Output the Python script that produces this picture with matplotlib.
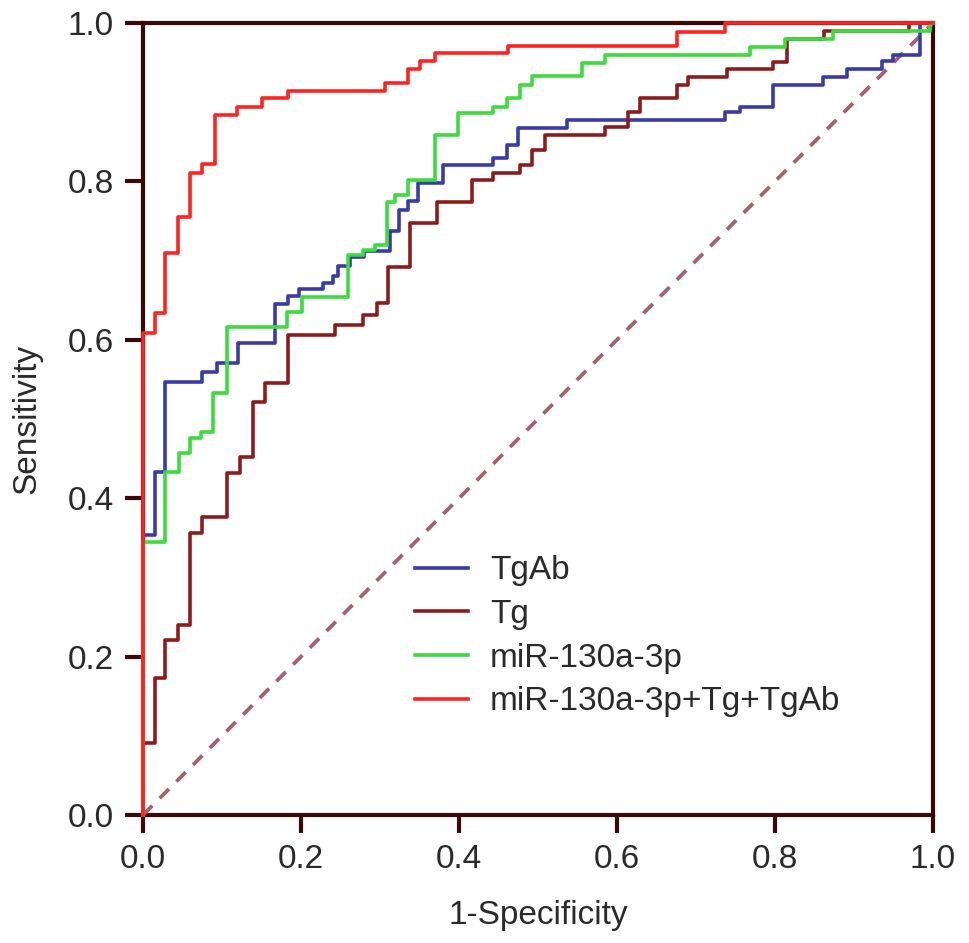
import matplotlib
matplotlib.use("Agg")
import matplotlib.pyplot as plt

plt.rcParams['font.family'] = ['Liberation Sans', 'DejaVu Sans']

# ROC step corners: x where the curve jumps, y after the jump
tgab_fpr = [0, 0, 0.015, 0.028, 0.075, 0.094, 0.120, 0.167, 0.183, 0.197, 0.228, 0.241,
            0.247, 0.262, 0.280, 0.313, 0.324, 0.335, 0.348, 0.380, 0.443, 0.461, 0.475,
            0.537, 0.737, 0.756, 0.797, 0.861, 0.891, 0.935, 0.949, 0.984, 1.0]
tgab_tpr = [0, 0.354, 0.433, 0.547, 0.559, 0.571, 0.596, 0.645, 0.655, 0.664, 0.672, 0.680,
            0.693, 0.704, 0.712, 0.737, 0.764, 0.775, 0.798, 0.821, 0.830, 0.846, 0.868,
            0.878, 0.888, 0.894, 0.922, 0.932, 0.942, 0.952, 0.960, 1.0, 1.0]

tg_fpr = [0, 0, 0.015, 0.028, 0.044, 0.059, 0.075, 0.106, 0.123, 0.139, 0.154, 0.184,
          0.243, 0.278, 0.296, 0.310, 0.338, 0.372, 0.416, 0.443, 0.477, 0.492, 0.509,
          0.585, 0.614, 0.629, 0.676, 0.690, 0.739, 0.797, 0.815, 0.862, 0.970, 1.0]
tg_tpr = [0, 0.091, 0.173, 0.221, 0.240, 0.356, 0.376, 0.432, 0.452, 0.521, 0.545, 0.606,
          0.619, 0.631, 0.646, 0.692, 0.747, 0.774, 0.802, 0.811, 0.821, 0.840, 0.859,
          0.869, 0.888, 0.905, 0.922, 0.932, 0.942, 0.951, 0.980, 0.990, 1.0, 1.0]

mir_fpr = [0, 0, 0.028, 0.045, 0.059, 0.074, 0.089, 0.106, 0.182, 0.201, 0.259, 0.278,
           0.294, 0.309, 0.319, 0.335, 0.370, 0.399, 0.443, 0.461, 0.477, 0.492, 0.556,
           0.585, 0.768, 0.813, 0.873, 0.996, 1.0]
mir_tpr = [0, 0.345, 0.433, 0.457, 0.476, 0.484, 0.533, 0.616, 0.635, 0.654, 0.707, 0.713,
           0.720, 0.774, 0.783, 0.802, 0.859, 0.886, 0.894, 0.905, 0.922, 0.933, 0.949,
           0.960, 0.970, 0.980, 0.990, 1.0, 1.0]

comb_fpr = [0, 0, 0.015, 0.028, 0.044, 0.059, 0.075, 0.091, 0.119, 0.151, 0.184, 0.306,
            0.335, 0.351, 0.370, 0.462, 0.676, 0.737, 1.0]
comb_tpr = [0, 0.609, 0.634, 0.710, 0.755, 0.811, 0.822, 0.884, 0.894, 0.905, 0.914, 0.924,
            0.942, 0.952, 0.962, 0.971, 0.989, 1.0, 1.0]

labels = ["TgAb", "Tg", "miR-130a-3p", "miR-130a-3p+Tg+TgAb"]
colors = ["#3a3aa8", "#8c1c1c", "#3ddc3d", "#ff2222"]

axcol = "#3a0808"
txtcol = "#2a2a2a"

fig = plt.figure(figsize=(9.69, 9.43), dpi=100)
ax = fig.add_axes([143/969, 1 - 815/943, 790/969, 792/943])

# reference line
ax.plot([0, 1], [0, 1], ls=(0, (3.5, 2.8)), color="#a4606c", lw=2.7, zorder=2.6)

curves = [(tgab_fpr, tgab_tpr), (tg_fpr, tg_tpr), (mir_fpr, mir_tpr), (comb_fpr, comb_tpr)]
for (fx, fy), lab, c in zip(curves, labels, colors):
    ax.plot(fx, fy, drawstyle="steps-post", color=c, lw=2.6, label=lab,
            clip_on=False, zorder=3)

ax.set_xlim(0, 1)
ax.set_ylim(0, 1)
ax.set_xticks([0, 0.2, 0.4, 0.6, 0.8, 1.0])
ax.set_yticks([0, 0.2, 0.4, 0.6, 0.8, 1.0])
ax.set_xticklabels(["0.0", "0.2", "0.4", "0.6", "0.8", "1.0"])
ax.set_yticklabels(["0.0", "0.2", "0.4", "0.6", "0.8", "1.0"])

for s in ax.spines.values():
    s.set_color(axcol)
    s.set_linewidth(3)
ax.tick_params(axis="both", direction="out", length=13, width=3, color=axcol,
               labelsize=24, labelcolor=txtcol, pad=8)
ax.tick_params(axis="x", top=False)
ax.tick_params(axis="y", right=False)

ax.set_xlabel("1-Specificity", fontsize=24, color=txtcol, labelpad=18)
ax.set_ylabel("Sensitivity", fontsize=24, color=txtcol, labelpad=18)

ax.legend(loc="upper left", bbox_to_anchor=(0.344, 0.328), frameon=False,
          fontsize=24, handlelength=1.6, handletextpad=0.66, labelspacing=0.38,
          borderpad=0, borderaxespad=0, labelcolor=txtcol)

fig.savefig("out.png", dpi=100)
